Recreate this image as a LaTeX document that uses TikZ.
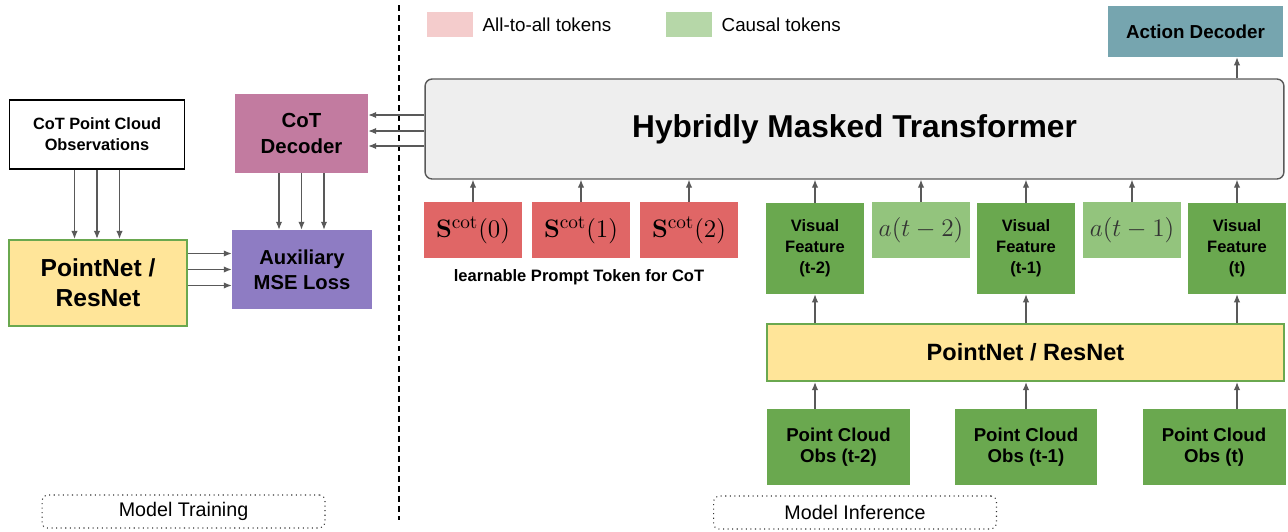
\documentclass[tikz,border=0pt]{standalone}
\usepackage[no-math]{fontspec}
\setmainfont{Liberation Sans}
\usepackage{amsmath}
\usetikzlibrary{arrows.meta, positioning, calc}

\definecolor{colLine}{RGB}{89, 89, 89}
\definecolor{colYellow}{HTML}{FFE599}
\definecolor{colGreen}{HTML}{6AA84F}
\definecolor{colLight}{HTML}{93C47D}
\definecolor{colRed}{HTML}{E06666}
\definecolor{colPink}{HTML}{F4CCCC}
\definecolor{colMint}{HTML}{B6D7A8}
\definecolor{colPlum}{HTML}{C27BA0}
\definecolor{colPurple}{HTML}{8E7CC3}
\definecolor{colTeal}{HTML}{76A5AF}
\definecolor{colGrey}{HTML}{EEEEEE}

\newcommand{\fsz}[2]{\fontsize{#1}{#2}\selectfont}

\begin{document}
\begin{tikzpicture}[x=0.02cm, y=-0.02cm,
    every node/.style={inner sep=0pt, align=center},
    arr/.style={draw=colLine, line width=0.6pt, -{Latex[length=4.5pt,width=3.6pt]}},
    tokbox/.style={fill=colRed, minimum width=1.96cm, minimum height=1.12cm, font=\fsz{15}{18}},
    actbox/.style={fill=colLight, minimum width=1.96cm, minimum height=1.12cm, font=\fsz{14}{17}, text=black!80},
    featbox/.style={fill=colGreen, minimum width=1.96cm, minimum height=1.82cm, font=\bfseries\fsz{9.4}{11.9}},
    obsbox/.style={fill=colGreen, minimum width=2.86cm, minimum height=1.52cm, font=\bfseries\fsz{10.6}{11.9}},
    netbox/.style={fill=colYellow, draw=colGreen, line width=1.3pt},
    tagbox/.style={draw=black!80, dotted, line width=0.6pt, rounded corners=3pt, minimum width=5.66cm, minimum height=0.66cm, font=\fsz{11.2}{13}}
]
    \useasboundingbox (0,0) rectangle (1288,531);

    % --- Model Training ---
    \node[draw=black, line width=0.6pt, fill=white, minimum width=3.5cm, minimum height=1.38cm, font=\bfseries\fsz{9.3}{11.9}] (cobs) at (97,134.5) {CoT Point Cloud\\Observations};
    \node[fill=colPlum, minimum width=2.66cm, minimum height=1.58cm, font=\bfseries\fsz{11.6}{14.7}] (cdec) at (301.5,133.5) {CoT\\Decoder};
    \node[netbox, minimum width=3.56cm, minimum height=1.72cm, font=\bfseries\fsz{14}{17}] (pnl) at (98,283) {PointNet /\\ResNet};
    \node[fill=colPurple, minimum width=2.8cm, minimum height=1.58cm, font=\bfseries\fsz{11.5}{14.2}] (mse) at (302,269.5) {Auxiliary\\MSE Loss};

    \foreach \d in {-1,0,1} {
        \draw[arr] ([xshift=\d*0.45cm]cobs.south) -- ([xshift=\d*0.45cm]cobs.south |- pnl.north);
        \draw[arr] ([xshift=\d*0.45cm]cdec.south) -- ([xshift=\d*0.45cm]cdec.south |- mse.north);
        \draw[arr] ([yshift=\d*0.32cm]mse.west -| pnl.east) -- ([yshift=\d*0.32cm]mse.west);
    }

    \node[tagbox] (tTrain) at (183.5,511.5) {Model Training};

    % divider
    \draw[line width=0.8pt, dash pattern=on 3.4pt off 2.3pt] (399,5) -- (399,520);

    % --- Legend ---
    \node[fill=colPink, minimum width=0.92cm, minimum height=0.5cm] (lgA) at (450,24.5) {};
    \node[right=0.18cm of lgA, font=\fsz{10.7}{12}] (lgAt) {All-to-all tokens};
    \node[fill=colMint, minimum width=0.92cm, minimum height=0.5cm] (lgC) at (689,24.5) {};
    \node[right=0.18cm of lgC, font=\fsz{10.7}{12}] (lgCt) {Causal tokens};

    % --- Transformer ---
    \node[fill=colGrey, draw=colLine, line width=0.8pt, rounded corners=4pt, minimum width=17.18cm, minimum height=2cm, font=\bfseries\fsz{18}{21}] (hmt) at (854.5,129) {Hybridly Masked Transformer};
    \node[fill=colTeal, minimum width=3.5cm, minimum height=1.02cm, font=\bfseries\fsz{10.7}{13}] (adec) at (1195.5,31.5) {Action Decoder};

    \foreach \s in {0.28,-0.04,-0.34} {
        \draw[arr] ([yshift=\s cm]hmt.west) -- ([yshift=\s cm]hmt.west -| cdec.east);
    }

    % CoT prompt tokens
    \foreach \i/\x in {0/473,1/581,2/689} {
        \node[tokbox] (s\i) at (\x,230) {$\mathbf{S}^{\mathrm{cot}}(\i)$};
        \draw[arr] (s\i.north) -- (s\i.north |- hmt.south);
    }
    \node[font=\bfseries\fsz{9.4}{11}] (sLbl) at (579,277) {learnable Prompt Token for CoT};

    % --- Model Inference ---
    \node[featbox] (vf2) at (815,248.5) {Visual\\Feature\\(t-2)};
    \node[actbox] (a2) at (921,230) {$a(t-2)$};
    \node[featbox] (vf1) at (1026,248.5) {Visual\\Feature\\(t-1)};
    \node[actbox] (a1) at (1132,230) {$a(t-1)$};
    \node[featbox] (vf0) at (1237,248.5) {Visual\\Feature\\(t)};
    \foreach \n in {vf2,a2,vf1,a1,vf0} {
        \draw[arr] (\n.north) -- (\n.north |- hmt.south);
    }
    \draw[arr] (hmt.north -| vf0) -- (adec.south -| vf0);

    \node[netbox, minimum width=10.34cm, minimum height=1.14cm, font=\bfseries\fsz{13.4}{16}] (pnr) at (1025.5,352.5) {PointNet / ResNet};
    \foreach \n in {vf2,vf1,vf0} {
        \draw[arr] (pnr.north -| \n) -- (\n.south);
    }

    \foreach \n/\x/\t in {o2/838.5/t-2, o1/1026/t-1, o0/1214/t} {
        \node[obsbox] (\n) at (\x,447) {Point Cloud\\Obs (\t)};
    }
    \foreach \n/\v in {o2/vf2, o1/vf1, o0/vf0} {
        \draw[arr] (\n.north -| \v) -- (pnr.south -| \v);
    }

    \node[tagbox] (tInfer) at (855,512.5) {Model Inference};

\end{tikzpicture}
\end{document}
